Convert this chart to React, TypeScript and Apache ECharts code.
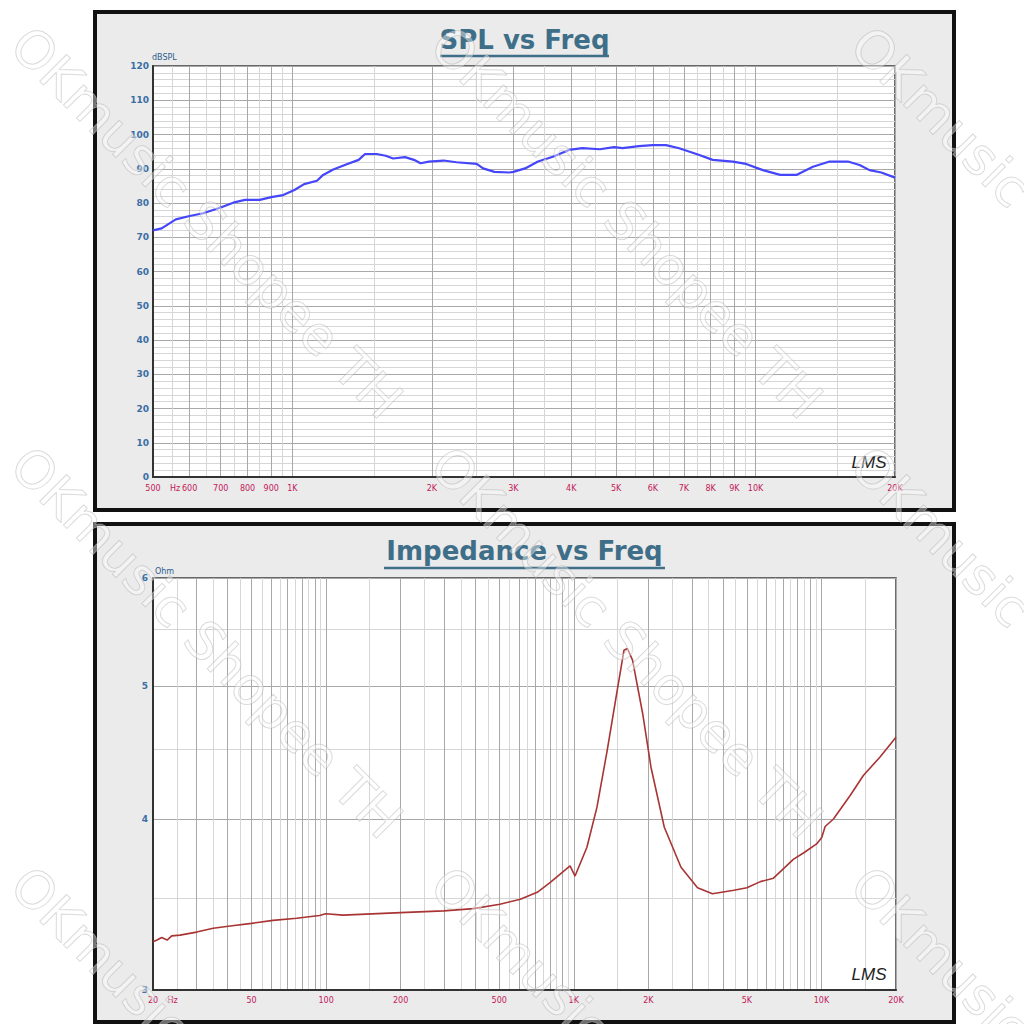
import React, { useEffect, useRef } from "react";
import * as echarts from "echarts";

// ---------- SPL vs Freq ----------
const splFreq = [500, 522, 560, 600, 642, 700, 745, 790, 850, 900, 955, 1010, 1060, 1130, 1165, 1225, 1310, 1390, 1435, 1520, 1590, 1650, 1750, 1830, 1890, 1970, 2120, 2260, 2500, 2580, 2730, 2940, 3000, 3180, 3390, 3650, 3955, 4225, 4610, 4950, 5160, 5600, 5990, 6405, 6840, 7560, 8080, 8930, 9540, 10370, 11300, 12250, 13300, 14450, 15820, 16770, 17620, 18680, 20000];
const splDb = [72, 72.6, 75.2, 76.2, 77, 78.7, 80.1, 80.9, 80.9, 81.7, 82.3, 83.8, 85.5, 86.5, 88.2, 89.8, 91.3, 92.6, 94.3, 94.3, 93.8, 93.0, 93.4, 92.6, 91.6, 92.1, 92.4, 91.9, 91.4, 90.1, 89.1, 88.9, 89.1, 90.1, 92.1, 93.5, 95.5, 96.0, 95.7, 96.3, 96.0, 96.6, 96.9, 96.9, 96.0, 94.0, 92.6, 92.1, 91.4, 89.6, 88.2, 88.2, 90.6, 92.1, 92.1, 91.1, 89.6, 88.9, 87.4];

const splGridMajor = [500, 600, 700, 800, 900, 1000, 2000, 3000, 4000, 5000, 6000, 7000, 8000, 9000, 10000, 20000];
const splGridMinor = [550, 650, 750, 850, 950, 1500, 2500, 3500, 4500, 5500, 6500, 7500, 8500, 9500, 15000];
const splTickValues = [500, 558, 600, 700, 800, 900, 1000, 2000, 3000, 4000, 5000, 6000, 7000, 8000, 9000, 10000, 20000];
const splTickLabels = ["500", "Hz", "600", "700", "800", "900", "1K", "2K", "3K", "4K", "5K", "6K", "7K", "8K", "9K", "10K", "20K"];

// ---------- Impedance vs Freq ----------
const impFreq = [20, 20.75, 21.7, 22.8, 23.8, 25.7, 30, 35, 41, 50, 61, 76, 94, 99.6, 117, 200, 298, 394, 503, 608, 712, 804, 966, 1012, 1130, 1240, 1364, 1475, 1595, 1646, 1727, 1897, 2050, 2320, 2710, 3160, 3630, 4430, 5000, 5670, 6400, 7720, 8520, 9560, 10030, 10350, 11180, 13060, 14760, 17210, 20000];
const impOhm = [3.254, 3.263, 3.277, 3.263, 3.286, 3.29, 3.307, 3.328, 3.341, 3.356, 3.373, 3.385, 3.401, 3.411, 3.403, 3.417, 3.427, 3.44, 3.466, 3.495, 3.536, 3.595, 3.697, 3.634, 3.814, 4.079, 4.488, 4.886, 5.314, 5.329, 5.226, 4.777, 4.364, 3.945, 3.688, 3.563, 3.527, 3.548, 3.563, 3.6, 3.621, 3.739, 3.781, 3.836, 3.878, 3.95, 4.0, 4.161, 4.304, 4.438, 4.59];

const impGridMajor = [20, 30, 40, 50, 60, 70, 80, 90, 100, 200, 300, 400, 500, 600, 700, 800, 900, 1000, 2000, 3000, 4000, 5000, 6000, 7000, 8000, 9000, 10000, 20000];
const impGridMinor = [25, 35, 45, 55, 65, 75, 85, 95, 150, 250, 350, 450, 550, 650, 750, 850, 950, 1500, 2500, 3500, 4500, 5500, 6500, 7500, 8500, 9500, 15000];
const impTickValues = [20, 24, 50, 100, 200, 500, 1000, 2000, 5000, 10000, 20000];
const impTickLabels = ["20", "Hz", "50", "100", "200", "500", "1K", "2K", "5K", "10K", "20K"];
const ohmMajor = [3, 4, 5, 6];
const ohmMinor = [3.5, 4.5, 5.5];
const ohmLabels = ["3", "4", "5", "6"];

const FONT = "DejaVu Sans";
const TITLE_COLOR = "#3f6e88";
const YLABEL_COLOR = "#3a6ea5";
const XLABEL_COLOR = "#c2185b";
const MAJOR_GRID = "#a8a8a8";
const MINOR_GRID = "#d6d6d6";

function lookup(values: number[], labels: string[]) {
  return (v: number) => {
    let best = 0;
    let bd = Infinity;
    for (let i = 0; i < values.length; i++) {
      const d = Math.abs(Math.log(v) - Math.log(values[i]));
      if (d < bd) { bd = d; best = i; }
    }
    return labels[best];
  };
}

function buildOption() {
  const hiddenAxisBits = {
    axisLine: { show: false },
    axisTick: { show: false },
    axisLabel: { show: false },
  };

  const watermarks: any[] = [];
  for (let r = 0; r < 3; r++) {
    for (let c = 0; c < 3; c++) {
      watermarks.push({
        type: "text",
        x: 20 + c * 420,
        y: 36 + r * 420,
        rotation: -Math.PI / 4,
        z: 100,
        silent: true,
        style: {
          text: "OKmusic Shopee TH",
          fontFamily: FONT,
          fontSize: 52,
          fill: "rgba(255,255,255,0.4)",
          stroke: "rgba(165,165,165,0.5)",
          lineWidth: 1,
          textAlign: "left",
          textVerticalAlign: "middle",
        },
      });
    }
  }

  return {
    animation: false,
    backgroundColor: "#ffffff",
    grid: [
      { left: 153, top: 66, width: 742, height: 411, show: true, backgroundColor: "#ffffff", borderColor: "#3c3c3c", borderWidth: 1.5 },
      { left: 153, top: 578, width: 743, height: 412, show: true, backgroundColor: "#ffffff", borderColor: "#3c3c3c", borderWidth: 1.5 },
    ],
    xAxis: [
      {
        gridIndex: 0, type: "log", min: 500, max: 20000, ...hiddenAxisBits,
        axisTick: { show: false, customValues: splGridMinor },
        splitLine: { show: true, lineStyle: { color: MINOR_GRID, width: 1 } },
      },
      {
        gridIndex: 0, type: "log", min: 500, max: 20000, position: "bottom",
        axisLine: { show: true, lineStyle: { color: "#333", width: 2 } },
        axisTick: { show: false, customValues: splGridMajor },
        axisLabel: {
          show: true, customValues: splTickValues, formatter: lookup(splTickValues, splTickLabels),
          color: XLABEL_COLOR, fontFamily: FONT, fontSize: 8, margin: 7,
        },
        splitLine: { show: true, lineStyle: { color: MAJOR_GRID, width: 1 } },
      },
      {
        gridIndex: 1, type: "log", min: 20, max: 20000, ...hiddenAxisBits,
        axisTick: { show: false, customValues: impGridMinor },
        splitLine: { show: true, lineStyle: { color: MINOR_GRID, width: 1 } },
      },
      {
        gridIndex: 1, type: "log", min: 20, max: 20000, position: "bottom",
        axisLine: { show: true, lineStyle: { color: "#333", width: 2 } },
        axisTick: { show: false, customValues: impGridMajor },
        axisLabel: {
          show: true, customValues: impTickValues, formatter: lookup(impTickValues, impTickLabels),
          color: XLABEL_COLOR, fontFamily: FONT, fontSize: 8, margin: 6,
        },
        splitLine: { show: true, lineStyle: { color: MAJOR_GRID, width: 1 } },
      },
    ],
    yAxis: [
      {
        gridIndex: 0, type: "value", min: 0, max: 120, interval: 10,
        name: "dBSPL", nameLocation: "end", nameGap: 3,
        nameTextStyle: { color: "#2d5c8c", fontFamily: FONT, fontSize: 8, align: "left", verticalAlign: "bottom", padding: [0, 0, 0, -1] },
        axisLine: { show: true, lineStyle: { color: "#333", width: 2 } },
        axisTick: { show: false },
        axisLabel: { color: YLABEL_COLOR, fontFamily: FONT, fontSize: 9, fontWeight: "bold", margin: 4 },
        splitLine: { show: true, lineStyle: { color: MAJOR_GRID, width: 1 } },
        minorTick: { show: false, splitNumber: 5 },
        minorSplitLine: { show: true, lineStyle: { color: MINOR_GRID, width: 1 } },
      },
      {
        gridIndex: 1, type: "log", min: 3, max: 6, ...hiddenAxisBits,
        axisTick: { show: false, customValues: ohmMinor },
        splitLine: { show: true, lineStyle: { color: MINOR_GRID, width: 1 } },
      },
      {
        gridIndex: 1, type: "log", min: 3, max: 6, position: "left",
        name: "Ohm", nameLocation: "end", nameGap: 3,
        nameTextStyle: { color: "#2d5c8c", fontFamily: FONT, fontSize: 8, align: "left", verticalAlign: "bottom", padding: [0, 0, 0, 2] },
        axisLine: { show: true, lineStyle: { color: "#333", width: 2 } },
        axisTick: { show: false, customValues: ohmMajor },
        axisLabel: {
          show: true, customValues: ohmMajor, formatter: lookup(ohmMajor, ohmLabels),
          color: YLABEL_COLOR, fontFamily: FONT, fontSize: 9, fontWeight: "bold", margin: 5,
        },
        splitLine: { show: true, lineStyle: { color: MAJOR_GRID, width: 1 } },
      },
    ],
    series: [
      {
        type: "line", xAxisIndex: 1, yAxisIndex: 0, symbol: "none", silent: true,
        lineStyle: { color: "#4545fa", width: 2.2 },
        data: splFreq.map((f, i) => [f, splDb[i]]),
        z: 5,
      },
      {
        type: "line", xAxisIndex: 3, yAxisIndex: 2, symbol: "none", silent: true,
        lineStyle: { color: "#a83434", width: 1.6 },
        data: impFreq.map((f, i) => [f, impOhm[i]]),
        z: 5,
      },
    ],
    graphic: [
      { type: "rect", z: -10, silent: true, shape: { x: 95, y: 12, width: 859, height: 498 }, style: { fill: "#ebebeb", stroke: "#111", lineWidth: 4 } },
      { type: "rect", z: -10, silent: true, shape: { x: 95, y: 524, width: 859, height: 498 }, style: { fill: "#ebebeb", stroke: "#111", lineWidth: 4 } },
      { type: "text", x: 524.5, y: 40, z: 10, style: { text: "SPL vs Freq", fontFamily: FONT, fontSize: 26, fontWeight: "bold", fill: TITLE_COLOR, textAlign: "center", textVerticalAlign: "middle" } },
      { type: "line", z: 10, shape: { x1: 440, y1: 56, x2: 609, y2: 56 }, style: { stroke: TITLE_COLOR, lineWidth: 2.5 } },
      { type: "text", x: 524.5, y: 551, z: 10, style: { text: "Impedance vs Freq", fontFamily: FONT, fontSize: 26, fontWeight: "bold", fill: TITLE_COLOR, textAlign: "center", textVerticalAlign: "middle" } },
      { type: "line", z: 10, shape: { x1: 384, y1: 568, x2: 665, y2: 568 }, style: { stroke: TITLE_COLOR, lineWidth: 2.5 } },
      { type: "text", x: 869, y: 462, z: 10, style: { text: "LMS", fontFamily: "Liberation Sans", fontStyle: "italic", fontSize: 17, fill: "#222", textAlign: "center", textVerticalAlign: "middle" } },
      { type: "text", x: 869, y: 974, z: 10, style: { text: "LMS", fontFamily: "Liberation Sans", fontStyle: "italic", fontSize: 17, fill: "#222", textAlign: "center", textVerticalAlign: "middle" } },
      ...watermarks,
    ],
  };
}

export default function App() {
  const ref = useRef<HTMLDivElement>(null);
  useEffect(() => {
    if (!ref.current) return;
    const chart = echarts.init(ref.current, null, { renderer: "svg" });
    chart.setOption(buildOption() as any);
    return () => chart.dispose();
  }, []);
  return <div ref={ref} style={{ position: "absolute", left: 0, top: 0, width: 1024, height: 1024 }} />;
}
